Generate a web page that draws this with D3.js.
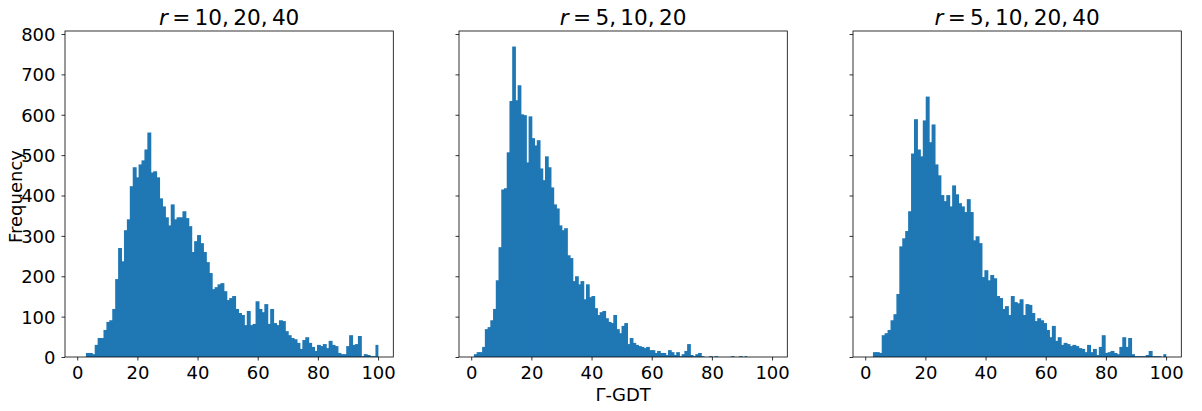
<!DOCTYPE html>
<html>
<head>
<meta charset="utf-8">
<script src="https://cdn.jsdelivr.net/npm/d3@7/dist/d3.min.js"></script>
<style>
  html, body { margin: 0; padding: 0; background: #fff; }
  svg { display: block; }
  text { font-family: "DejaVu Sans", sans-serif; fill: #000; }
</style>
</head>
<body>
<svg id="chart" width="1202" height="411"></svg>
<script>
// ---- data ----
const panelTitles = [["r", "10, 20, 40"], ["r", "5, 10, 20"], ["r", "5, 10, 20, 40"]];
const binRanges = [[2.9, 100.1], [0.9, 91.75], [2.56, 100.07]];

const counts1 = [10,10,7,30,47,47,67,87,91,119,
193,270,237,314,341,423,470,445,477,487,
514,556,457,460,445,393,373,346,326,378,
341,346,346,361,344,324,260,287,302,282,
260,235,208,168,173,180,183,163,141,146,
151,119,109,104,79,114,79,82,138,119,
111,131,82,119,84,79,91,89,64,54,
47,44,35,20,42,49,35,25,15,30,
27,32,22,40,30,27,10,7,7,27,
54,30,32,52,2,7,5,2,2,30];

const counts2 = [7,12,12,25,69,74,91,119,190,272,
415,418,507,634,769,636,673,601,599,482,
596,542,524,537,467,438,497,470,420,378,
368,326,314,319,252,245,188,200,180,188,
143,180,148,151,121,104,111,114,96,87,
84,104,69,59,77,84,32,47,35,30,
27,25,22,25,17,17,10,15,10,10,
5,17,12,5,12,2,7,15,32,5,
2,7,10,2,0,0,2,0,2,0,
0,0,0,0,2,0,0,2,0,2];

const counts3 = [12,12,10,54,59,67,91,106,156,274,
294,312,361,504,589,514,497,586,645,532,
576,477,450,401,386,401,373,425,403,381,
373,359,391,359,289,299,282,198,215,190,
203,195,151,146,119,126,104,151,136,133,
143,104,131,129,109,89,96,91,84,67,
49,77,40,49,30,35,32,27,30,27,
22,20,12,30,12,20,5,25,54,10,
12,15,10,7,25,49,25,47,7,2,
2,2,2,5,15,2,2,2,0,7];

const seriesCounts = [counts1, counts2, counts3];
const xTicks = [0, 20, 40, 60, 80, 100];
const yTicks = [0, 100, 200, 300, 400, 500, 600, 700, 800];
const xLabel = "\u0393-GDT";
const yLabel = "Frequency";

// ---- layout ----
const panelLeft = [65, 459, 853];
const panelW = 328.3;
const plotTop = 31, plotBottom = 357;
const barColor = "#1f77b4";
const tickLen = 3.5;

const svg = d3.select("#chart");

// shared x domain (5% margins of overall data range), shared y domain
const lo = d3.min(binRanges, d => d[0]);
const hi = d3.max(binRanges, d => d[1]);
const R = hi - lo;
const xDomain = [lo - 0.05 * R, hi + 0.05 * R];
const yMax = d3.max(seriesCounts, c => d3.max(c)) * 1.05;
const y = d3.scaleLinear().domain([0, yMax]).range([plotBottom, plotTop]);

seriesCounts.forEach((counts, p) => {
  const x0 = panelLeft[p];
  const x = d3.scaleLinear().domain(xDomain).range([x0, x0 + panelW]);
  const [a, b] = binRanges[p];
  const n = counts.length;
  const w = (b - a) / n;
  const bins = counts.map((c, i) => ({ i, x0: a + i * w, x1: a + (i + 1) * w, c }));

  const g = svg.append("g");

  g.selectAll("rect.bar").data(bins).enter().append("rect")
    .attr("class", "bar")
    .attr("x", d => x(d.x0))
    .attr("width", d => Math.max(0, x(d.x1) - x(d.x0)) + (d.i < n - 1 ? 1 : 0))
    .attr("y", d => y(d.c))
    .attr("height", d => y(0) - y(d.c))
    .attr("fill", barColor);

  // spines
  g.append("rect")
    .attr("x", x0).attr("y", plotTop)
    .attr("width", panelW).attr("height", plotBottom - plotTop)
    .attr("fill", "none").attr("stroke", "#000").attr("stroke-width", 0.8);

  // x axis
  const xAxis = d3.axisBottom(x).tickValues(xTicks).tickSize(tickLen).tickPadding(3.5).tickFormat(d3.format("d"));
  const xa = g.append("g").attr("transform", `translate(0,${plotBottom})`).call(xAxis);
  xa.select(".domain").remove();
  xa.selectAll("line").attr("stroke", "#000").attr("stroke-width", 0.8);
  xa.selectAll("text").attr("font-size", 18).attr("font-family", "DejaVu Sans").attr("fill", "#000")
    .attr("y", 22).attr("dy", null);

  // y axis
  const yAxis = d3.axisLeft(y).tickValues(yTicks).tickSize(tickLen).tickPadding(3.5)
    .tickFormat(p === 0 ? d3.format("d") : () => "");
  const ya = g.append("g").attr("transform", `translate(${x0},0)`).call(yAxis);
  ya.select(".domain").remove();
  ya.selectAll("line").attr("stroke", "#000").attr("stroke-width", 0.8);
  ya.selectAll("text").attr("font-size", 18).attr("font-family", "DejaVu Sans").attr("fill", "#000")
    .attr("x", -9.5).attr("dy", "0.36em");

  // title (mathtext-like spacing)
  const t = g.append("text")
    .attr("x", x0 + panelW / 2).attr("y", 25)
    .attr("text-anchor", "middle").attr("font-size", 21.6);
  t.append("tspan").attr("font-style", "italic").text(panelTitles[p][0]);
  t.append("tspan").attr("dx", "0.2em").text("=");
  const parts = panelTitles[p][1].split(", ");
  parts.forEach((s, i) => {
    t.append("tspan").attr("dx", "0.2em").text(s + (i < parts.length - 1 ? "," : ""));
  });
});

// axis labels
svg.append("text")
  .attr("x", panelLeft[1] + panelW / 2).attr("y", 401)
  .attr("text-anchor", "middle").attr("font-size", 18).text(xLabel);

svg.append("text")
  .attr("transform", `translate(22,196.5) rotate(-90)`)
  .attr("text-anchor", "middle").attr("font-size", 18).text(yLabel);
</script>
</body>
</html>
